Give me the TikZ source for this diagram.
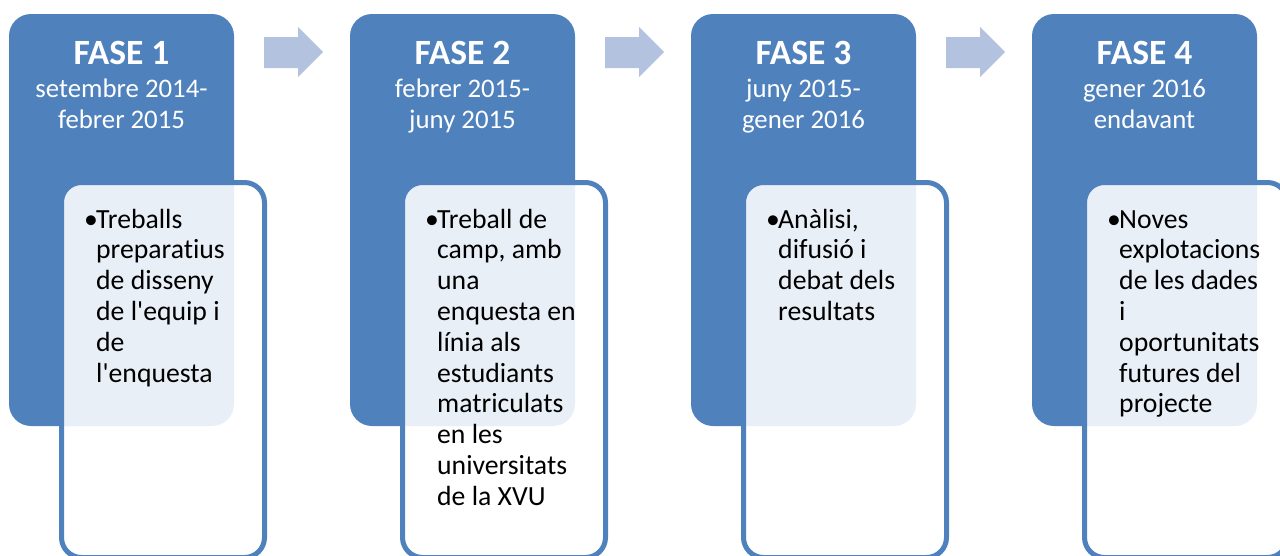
\documentclass[tikz,border=0pt]{standalone}
\usepackage{fontspec}
\setmainfont{Carlito}[Ligatures={NoCommon,NoRare,NoDiscretionary}]
\definecolor{phaseblue}{HTML}{4F81BD}
\definecolor{arrowblue}{HTML}{B3C3DF}
\begin{document}
\begin{tikzpicture}[x=1pt,y=-1pt,
  phasebox/.style={fill=phaseblue, rounded corners=22pt, minimum width=225pt, minimum height=412pt, inner sep=0pt, outer sep=0pt},
  detailbox/.style={draw=phaseblue, line width=5pt, fill=white, fill opacity=0.88, rounded corners=20pt, minimum width=203pt, minimum height=375pt, inner sep=0pt, outer sep=0pt},
  titletext/.style={text=white, font=\fontsize{35.5}{40}\selectfont\bfseries, inner sep=0pt, anchor=base},
  datetext/.style={text=white, font=\fontsize{26.8}{31}\selectfont, inner sep=0pt, anchor=base},
  bodytext/.style={font=\fontsize{27.7}{30.8}\selectfont, inner sep=0pt, anchor=base west},
  bullettext/.style={font=\fontsize{27.7}{30.8}\selectfont, inner sep=0pt, anchor=base},
  steparrow/.style={fill=arrowblue}]
\useasboundingbox (0,0) rectangle (1280,555);
\clip (0,0) rectangle (1280,555);
% arrows
\foreach \i in {0,1,2}{
  \fill[steparrow, shift={(341*\i,0)}] (264,37) -- (298,37) -- (298,27) -- (323,52) -- (298,77) -- (298,68) -- (264,68) -- cycle;
}
% phase boxes and titles
\foreach \i/\n/\da/\db in {0/1/{setembre 2014-}/{febrer 2015},1/2/{febrer 2015-}/{juny 2015},2/3/{juny 2015-}/{gener 2016},3/4/{gener 2016}/{endavant}}{
  \node[phasebox] (phase\n) at (121.5+341*\i,220) {};
  \node[detailbox] (detail\n) at (163+341*\i,370) {};
  \node[titletext] (title\n) at (121.5+341*\i,64) {FASE \n};
  \node[datetext] (datea\n) at (121.5+341*\i,97) {\da};
  \node[datetext] (dateb\n) at (121.5+341*\i,128) {\db};
  \node[bullettext] (bullet\n) at (91+341*\i,228) {•};
}
\node[bodytext] (body1) at (96,228) {\begin{tabular}[t]{@{}l@{}}Treballs\\preparatius\\de disseny\\de l\textquotesingle equip i\\de\\l\textquotesingle enquesta\end{tabular}};
\node[bodytext] (body2) at (437,228) {\begin{tabular}[t]{@{}l@{}}Treball de\\camp, amb\\una\\enquesta en\\línia als\\estudiants\\matriculats\\en les\\universitats\\de la XVU\end{tabular}};
\node[bodytext] (body3) at (778,228) {\begin{tabular}[t]{@{}l@{}}Anàlisi,\\difusió i\\debat dels\\resultats\end{tabular}};
\node[bodytext] (body4) at (1119,228) {\begin{tabular}[t]{@{}l@{}}Noves\\explotacions\\de les dades\\i\\oportunitats\\futures del\\projecte\end{tabular}};
\end{tikzpicture}
\end{document}
